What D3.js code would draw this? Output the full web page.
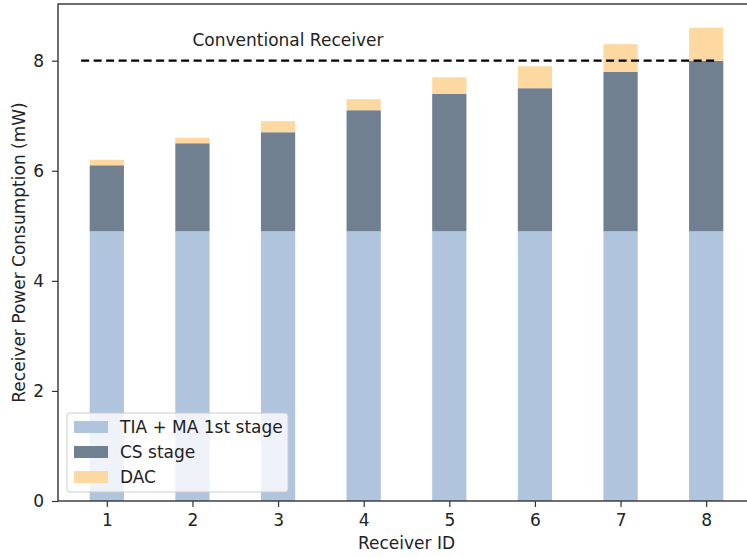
<!DOCTYPE html>
<html>
<head>
<meta charset="utf-8">
<script src="https://cdn.jsdelivr.net/npm/d3@7"></script>
<style>
  html, body { margin: 0; padding: 0; background: #fff; }
  svg { display: block; font-family: "DejaVu Sans", sans-serif; }
</style>
</head>
<body>
<svg id="chart" width="747" height="558"></svg>
<script>
// Receiver power breakdown (mW), stacked per receiver
const receivers = [1, 2, 3, 4, 5, 6, 7, 8];
const tiaMa = [4.9, 4.9, 4.9, 4.9, 4.9, 4.9, 4.9, 4.9];
const csStage = [1.2, 1.6, 1.8, 2.2, 2.5, 2.6, 2.9, 3.1];
const dac = [0.1, 0.1, 0.2, 0.2, 0.3, 0.4, 0.5, 0.6];
const seriesNames = ["TIA + MA 1st stage", "CS stage", "DAC"];
const seriesColors = ["#b0c4de", "#708090", "#fdd9a1"];
const conventionalPower = 8;
const yTicks = [0, 2, 4, 6, 8];

const svg = d3.select("#chart");
const margin = { left: 58, top: 4, right: -8, bottom: 57 };
const W = 747, H = 558;
const FS = 17;
const x = d3.scaleLinear().domain([0.43, 8.57]).range([margin.left, W - margin.right]);
const y = d3.scaleLinear().domain([0, 9.03]).range([H - margin.bottom, margin.top]);

const rows = receivers.map((r, i) => ({ id: r, tia: tiaMa[i], cs: csStage[i], dac: dac[i] }));
const stack = d3.stack().keys(["tia", "cs", "dac"])(rows);
const barW = 0.4;

const g = svg.append("g");
stack.forEach((layer, k) => {
  g.selectAll(null).data(layer).enter().append("rect")
    .attr("x", d => x(d.data.id - barW / 2))
    .attr("width", d => x(d.data.id + barW / 2) - x(d.data.id - barW / 2))
    .attr("y", d => y(d[1]))
    .attr("height", d => y(d[0]) - y(d[1]))
    .attr("fill", seriesColors[k]);
});

// Conventional receiver reference line
svg.append("line")
  .attr("x1", x(0.7)).attr("x2", x(8.13))
  .attr("y1", y(conventionalPower)).attr("y2", y(conventionalPower))
  .attr("stroke", "#000").attr("stroke-width", 2.2)
  .attr("stroke-dasharray", "8,4.5");
svg.append("text")
  .attr("x", x(2)).attr("y", y(8.26))
  .attr("font-size", FS).attr("fill", "#222")
  .text("Conventional Receiver");

// Axes
const xAxis = d3.axisBottom(x).tickValues(receivers).tickSizeOuter(0).tickSize(6).tickPadding(7);
const yAxis = d3.axisLeft(y).tickValues(yTicks).tickSizeOuter(0).tickSize(6).tickPadding(8);
const gx = svg.append("g").attr("transform", `translate(0,${y(0)})`).call(xAxis);
const gy = svg.append("g").attr("transform", `translate(${x(0.43)},0)`).call(yAxis);
[gx, gy].forEach(a => {
  a.selectAll("text").attr("font-size", FS).attr("fill", "#222").attr("font-family", "DejaVu Sans");
  a.selectAll("line").attr("stroke", "#333").attr("stroke-width", 1.2);
  a.select(".domain").remove();
});
// Frame
svg.append("rect")
  .attr("x", x(0.43)).attr("y", y(9.03))
  .attr("width", x(8.57) - x(0.43)).attr("height", y(0) - y(9.03))
  .attr("fill", "none").attr("stroke", "#333").attr("stroke-width", 1.4);

// Axis titles
svg.append("text")
  .attr("x", (x(0.43) + x(8.57)) / 2).attr("y", 549)
  .attr("text-anchor", "middle").attr("font-size", FS).attr("fill", "#222")
  .text("Receiver ID");
svg.append("text")
  .attr("transform", `translate(25,${(y(0) + y(9.03)) / 2}) rotate(-90)`)
  .attr("text-anchor", "middle").attr("font-size", FS).attr("fill", "#222")
  .text("Receiver Power Consumption (mW)");

// Legend
const lg = svg.append("g").attr("transform", "translate(67,413)");
lg.append("rect").attr("width", 221).attr("height", 79).attr("rx", 3)
  .attr("fill", "#fff").attr("fill-opacity", 0.8)
  .attr("stroke", "#ccc").attr("stroke-width", 1);
seriesNames.forEach((name, i) => {
  const row = lg.append("g").attr("transform", `translate(7,${8 + i * 25})`);
  row.append("rect").attr("width", 34).attr("height", 12).attr("fill", seriesColors[i]);
  row.append("text").attr("x", 46).attr("y", 12).attr("font-size", FS).attr("fill", "#222").text(name);
});
</script>
</body>
</html>
